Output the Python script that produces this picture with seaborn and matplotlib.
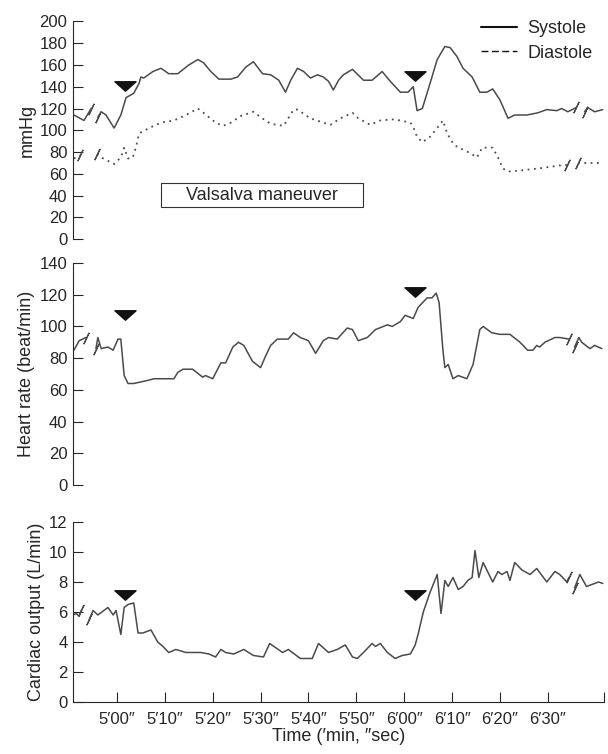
import numpy as np
import pandas as pd
import seaborn as sns
import matplotlib.pyplot as plt
from matplotlib.path import Path
from matplotlib.lines import Line2D
from matplotlib.patches import Rectangle

nan = np.nan

# time in seconds (5'00" = 300); nan marks a break in the trace
sys_t = [291.0, 293.1, 294.6, nan, 296.0, 296.7, 297.7, 299.4, 300.8, 301.9, 303.5, 304.6,
         305.0, 305.6, 307.5, 309.2, 310.8, 312.7, 315.0, 316.9, 318.1, 319.6, 321.3, 323.8,
         325.2, 326.9, 328.5, 330.4, 332.1, 333.8, 335.2, 336.3, 337.7, 339.0, 340.4, 341.9,
         343.1, 344.2, 345.2, 346.3, 347.3, 349.2, 351.5, 353.3, 355.4, 357.1, 359.2, 360.8,
         361.9, 362.7, 363.8, 365.4, 366.9, 368.5, 369.6, 371.0, 372.3, 374.2, 375.8, 377.3,
         378.5, 380.0, 381.7, 383.1, 385.6, 387.9, 389.8, 391.9, 392.9, 394.2, 396.0, nan,
         397.7, 398.3, 399.8, 401.5]
sys_v = [114, 109, 120, nan, 112, 117, 114, 102, 114, 130, 134, 143,
         149, 148, 154, 157, 152, 152, 160, 165, 162, 154, 147, 147,
         149, 158, 163, 152, 151, 146, 135, 146, 157, 154, 148, 151,
         149, 145, 137, 146, 151, 156, 146, 146, 154, 145, 135, 135,
         140, 118, 120, 143, 165, 177, 176, 168, 157, 149, 135, 135,
         138, 128, 111, 114, 114, 116, 119, 118, 120, 117, 121, nan,
         117, 121, 117, 119]

dia_t = [291.0, 292.3, nan, 295.8, 296.7, 299.4, 300.8, 301.5, 302.3, 303.3, 304.0, 304.6,
         305.0, 306.7, 309.2, 311.9, 314.4, 316.9, 318.1, 320.6, 322.1, 323.8, 325.8, 328.5,
         330.0, 332.1, 334.8, 336.9, 337.7, 340.4, 343.1, 344.6, 346.7, 349.2, 350.4, 352.9,
         355.0, 357.5, 359.2, 361.3, 361.9, 362.7, 363.8, 365.4, 366.9, 368.1, 369.0, 370.2,
         371.0, 373.8, 375.2, 376.3, 378.5, 379.6, 380.6, 381.7, 384.2, 388.3, 393.1, 394.0,
         nan, 396.3, 397.3, 401.5]
dia_v = [74, 77, nan, 78, 75, 69, 75, 84, 74, 75, 85, 97,
         98, 102, 107, 109, 114, 120, 116, 107, 104, 107, 113, 117,
         112, 106, 104, 119, 119, 111, 107, 105, 111, 116, 111, 105,
         109, 110, 109, 107, 103, 94, 89, 94, 102, 109, 97, 88,
         85, 79, 75, 84, 84, 75, 65, 62, 63, 65, 68, 68,
         nan, 70, 70, 70]

hr_t = [291.0, 292.1, 293.5, nan, 295.6, 296.0, 296.7, 298.1, 299.2, 300.2, 300.8, 301.5,
        302.3, 303.5, 305.0, 306.5, 307.7, 311.9, 312.7, 313.8, 315.8, 317.9, 318.5, 320.0,
        321.7, 322.7, 324.2, 325.4, 326.5, 328.3, 330.0, 331.0, 332.1, 333.5, 335.8, 336.9,
        338.3, 340.0, 341.5, 343.1, 344.2, 346.0, 348.1, 349.2, 350.4, 352.3, 354.0, 356.5,
        357.5, 359.2, 360.2, 361.9, 362.9, 364.8, 365.8, 366.7, 367.3, 368.1, 368.5, 369.2,
        370.2, 371.3, 373.1, 374.4, 375.8, 376.5, 378.3, 380.0, 382.1, 384.2, 385.8, 386.9,
        387.7, 388.3, 389.4, 391.5, 392.5, 394.4, nan, 395.6, 396.5, 397.1, 398.8, 399.8, 401.3]
hr_v = [85, 91, 93, nan, 86, 93, 86, 87, 85, 92, 92, 69,
        64, 64, 65, 66, 67, 67, 71, 73, 73, 68, 69, 67,
        77, 77, 87, 90, 88, 78, 74, 81, 88, 92, 92, 96,
        93, 91, 83, 91, 93, 92, 99, 98, 91, 93, 98, 101,
        100, 103, 107, 105, 112, 118, 118, 121, 115, 85, 74, 76,
        67, 69, 67, 76, 98, 100, 96, 95, 95, 90, 85, 85,
        88, 87, 90, 93, 93, 92, nan, 87, 93, 90, 86, 88, 86]

co_t = [290.8, 291.5, 292.1, 292.5, nan, 294.2, 295.0, 296.0, 298.1, 299.2, 299.8, 300.8,
        301.5, 302.3, 303.5, 304.4, 305.4, 307.1, 308.5, 309.6, 310.8, 312.3, 314.4, 315.8,
        317.5, 319.2, 320.6, 321.7, 322.7, 324.4, 326.5, 328.5, 330.6, 331.9, 334.6, 335.8,
        338.3, 340.8, 342.1, 344.2, 346.0, 347.7, 349.2, 350.2, 351.5, 353.3, 354.0, 355.0,
        356.5, 358.1, 359.6, 361.3, 362.3, 362.9, 364.0, 365.4, 366.9, 367.7, 368.5, 369.2,
        370.2, 371.3, 372.3, 373.3, 374.2, 374.8, 375.6, 376.5, 378.5, 379.6, 380.4, 381.5,
        382.1, 383.1, 384.6, 386.3, 387.7, 389.8, 391.5, 392.5, 394.0, 394.4, nan,
        395.6, 396.7, 398.1, 399.8, 400.6, 401.5]
co_v = [5.8, 5.9, 5.7, 6.1, nan, 5.5, 6.1, 5.8, 6.3, 5.8, 6.1, 4.5,
        6.3, 6.5, 6.6, 4.6, 4.6, 4.8, 4.0, 3.7, 3.3, 3.5, 3.3, 3.3,
        3.3, 3.2, 3.0, 3.5, 3.3, 3.2, 3.5, 3.1, 3.0, 3.9, 3.3, 3.5,
        2.9, 2.9, 3.9, 3.3, 3.5, 3.8, 3.0, 2.9, 3.3, 3.9, 3.7, 3.9,
        3.3, 2.9, 3.1, 3.2, 3.8, 4.5, 6.0, 7.3, 8.5, 5.9, 8.1, 7.7,
        8.3, 7.5, 7.7, 8.1, 8.3, 10.1, 8.3, 9.3, 8.0, 8.7, 8.5, 8.7,
        8.1, 9.3, 8.8, 8.5, 8.9, 8.0, 8.7, 8.5, 8.0, 8.3, nan,
        7.6, 8.5, 7.7, 7.9, 8.0, 7.9]

# start / end of the Valsalva maneuver (arrowheads), with marker heights per panel
arrow_t = [301.7, 362.3]
arrow_bp = [141, 150]
arrow_hr = [107, 122]
arrow_co = [7.1, 7.1]

tick_t = [300, 310, 320, 330, 340, 350, 360, 370, 380, 390]
tick_labels = ['5′00″', '5′10″', '5′20″', '5′30″', '5′40″',
               '5′50″', '6′00″', '6′10″', '6′20″', '6′30″']

sns.set_style('ticks')
plt.rcParams['font.family'] = ['Liberation Sans', 'DejaVu Sans']
plt.rcParams['font.size'] = 12

line_col = '#4a4a4a'
xmin, xmax = 290.8, 401.7
lab_size = 13

# flattened down-pointing triangle
tri = Path([(-1, 0.45), (1, 0.45), (0, -0.45), (-1, 0.45)],
           [Path.MOVETO, Path.LINETO, Path.LINETO, Path.CLOSEPOLY])


def trace(ax, t, v, **kw):
    df = pd.DataFrame({'t': t, 'v': v})
    df['seg'] = df['v'].isna().cumsum()
    df = df.dropna()
    sns.lineplot(data=df, x='t', y='v', units='seg', estimator=None, sort=False,
                 color=line_col, ax=ax, legend=False, **kw)
    # little slashes where the trace is broken
    g = df.groupby('seg')
    ends = pd.concat([g.tail(1).iloc[:-1], g.head(1).iloc[1:]])
    ax.plot(ends['t'], ends['v'], ls='none', marker=(2, 2, -25), ms=9,
            mec=line_col, mew=0.9)


def style_axis(ax, ymax, ystep, label, bottom=False):
    ax.set_xlim(xmin, xmax)
    ax.set_ylim(0, ymax)
    ax.set_yticks(np.arange(0, ymax + ystep / 2, ystep))
    ax.set_ylabel(label, fontsize=lab_size, labelpad=3)
    ax.set_xlabel('')
    ax.tick_params(axis='y', direction='in', length=7, width=0.8, pad=4, labelsize=12)
    for s in ['top', 'right']:
        ax.spines[s].set_visible(False)
    ax.spines['left'].set_linewidth(0.8)
    if bottom:
        ax.set_xticks(tick_t + [xmax])
        ax.set_xticklabels(tick_labels + [''])
        ax.tick_params(axis='x', direction='in', length=7, width=0.8, pad=7, labelsize=12)
        ax.spines['bottom'].set_linewidth(0.8)
        ax.set_xlabel('Time (′min, ″sec)', fontsize=lab_size, labelpad=1)
    else:
        ax.spines['bottom'].set_visible(False)
        ax.set_xticks([])


fig = plt.figure(figsize=(6.08, 7.54), dpi=100)
ax1 = fig.add_axes([0.120, 0.683, 0.873, 0.2885])
ax2 = fig.add_axes([0.120, 0.3568, 0.873, 0.2944])
ax3 = fig.add_axes([0.120, 0.069, 0.873, 0.2387])

# blood pressure
trace(ax1, sys_t, sys_v, lw=1.1)
trace(ax1, dia_t, dia_v, lw=1.3, ls=(0, (1, 2.5)))
ax1.scatter(arrow_t, arrow_bp, marker=tri, s=230, color='#111111', zorder=5)
style_axis(ax1, 200, 20, 'mmHg')
ax1.add_patch(Rectangle((0.166, 0.147), 0.38, 0.11, transform=ax1.transAxes,
                        fill=False, ec='#333333', lw=0.8))
ax1.text(0.356, 0.202, 'Valsalva maneuver', transform=ax1.transAxes,
         ha='center', va='center', fontsize=lab_size)
handles = [Line2D([], [], color='#111111', lw=1.5),
           Line2D([], [], color='#111111', lw=1.0, ls=(0, (5, 2.5)))]
ax1.legend(handles, ['Systole', 'Diastole'], loc='upper right',
           bbox_to_anchor=(1.01, 1.08), frameon=False, fontsize=lab_size,
           handlelength=2.0, handletextpad=0.6, labelspacing=0.4)

# heart rate
trace(ax2, hr_t, hr_v, lw=1.1)
ax2.scatter(arrow_t, arrow_hr, marker=tri, s=230, color='#111111', zorder=5)
style_axis(ax2, 140, 20, 'Heart rate (beat/min)')

# cardiac output
trace(ax3, co_t, co_v, lw=1.1)
ax3.scatter(arrow_t, arrow_co, marker=tri, s=230, color='#111111', zorder=5)
style_axis(ax3, 12, 2, 'Cardiac output (L/min)', bottom=True)

fig.savefig('out.png', dpi=100)
